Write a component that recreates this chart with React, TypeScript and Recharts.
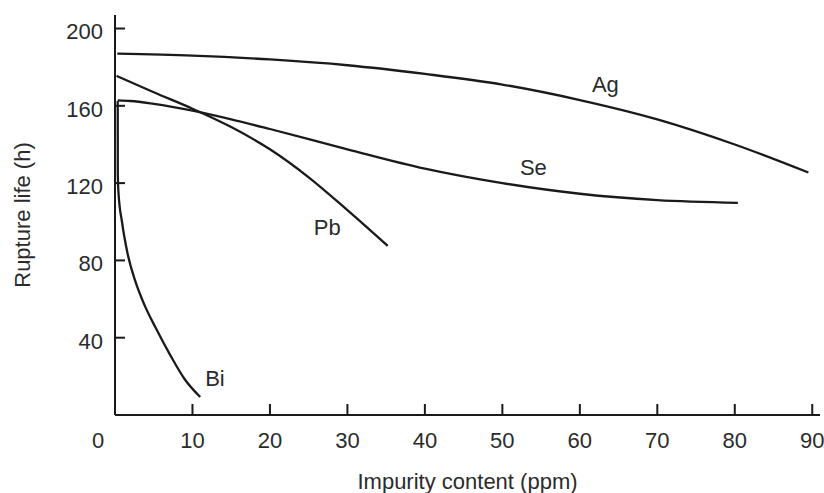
import { LineChart, Line, XAxis, YAxis, ReferenceDot } from 'recharts';

// impurity content (ppm) and rupture life (h) for each element
const agPpm = [0.3, 10, 20, 30, 40, 50, 60, 70, 80, 89.5];
const agLife = [187, 186, 184, 181, 176.5, 171, 163, 153, 140, 125.5];

const sePpm = [0.35, 2, 5, 10, 15, 20, 30, 40, 50, 60, 70, 80.4];
const seLife = [162.8, 162.5, 161, 157.5, 153, 148, 137.5, 127.5, 120, 114.5, 111.2, 109.8];

const pbPpm = [0.2, 5, 10, 15, 20, 25, 30, 35.2];
const pbLife = [175.5, 167, 158.5, 149, 137.5, 123, 106, 87.5];

const biPpm = [0.35, 0.36, 0.45, 0.9, 1.6, 2.6, 3.8, 5.2, 7.2, 9, 11];
const biLife = [162.5, 125, 115, 100, 84, 69.5, 57, 45.5, 30.5, 18.5, 9.3];

const xTicks = [0, 10, 20, 30, 40, 50, 60, 70, 80, 90];
const yTicks = [40, 80, 120, 160, 200];

// where each curve name sits (ppm, h)
const curveLabels = [
  { name: 'Ag', x: 63.3, y: 171 },
  { name: 'Se', x: 54, y: 128 },
  { name: 'Pb', x: 27.4, y: 97 },
  { name: 'Bi', x: 12.9, y: 19 },
];

const toRows = (xs: number[], ys: number[]) => xs.map((x, i) => ({ x, y: ys[i] }));

const series = [
  { key: 'Ag', data: toRows(agPpm, agLife) },
  { key: 'Se', data: toRows(sePpm, seLife) },
  { key: 'Pb', data: toRows(pbPpm, pbLife) },
  { key: 'Bi', data: toRows(biPpm, biLife) },
];

const font = '"Liberation Sans", Arial, sans-serif';
const ink = '#1a1a1a';
const textInk = '#2b2b2b';
const fs = 22;

const XTick = (props: any) => {
  const { x, y, payload } = props;
  const dx = payload.value === 0 ? -17 : 0;
  return (
    <text x={x + dx} y={y} dy="0.71em" textAnchor="middle" fill={textInk} fontSize={fs} fontFamily={font}>
      {payload.value}
    </text>
  );
};

export default function App() {
  return (
    <div style={{ position: 'absolute', left: 0, top: 0, background: '#fff' }}>
      <LineChart width={824} height={493} margin={{ top: 15, right: 4, bottom: 0, left: 0 }}>
        <XAxis
          dataKey="x"
          type="number"
          domain={[0, 91]}
          ticks={xTicks}
          allowDataOverflow
          height={78}
          tickSize={-11}
          tickMargin={28}
          tick={XTick}
          axisLine={{ stroke: ink, strokeWidth: 2 }}
          tickLine={{ stroke: ink, strokeWidth: 2 }}
          label={{ value: 'Impurity content (ppm)', position: 'insideBottom', offset: 4, fill: textInk, fontSize: fs, fontFamily: font }}
        />
        <YAxis
          dataKey="y"
          type="number"
          domain={[0, 207]}
          ticks={yTicks}
          allowDataOverflow
          width={115}
          tickSize={-10}
          tickMargin={22}
          tick={{ fill: textInk, fontSize: fs, fontFamily: font, dy: 3 }}
          axisLine={{ stroke: ink, strokeWidth: 2 }}
          tickLine={{ stroke: ink, strokeWidth: 2 }}
          label={{ value: 'Rupture life (h)', angle: -90, position: 'insideLeft', offset: 22, fill: textInk, fontSize: fs, fontFamily: font, style: { textAnchor: 'middle' } }}
        />
        {series.map((s) => (
          <Line
            key={s.key}
            data={s.data}
            dataKey="y"
            type="monotone"
            stroke={ink}
            strokeWidth={2.3}
            dot={false}
            isAnimationActive={false}
          />
        ))}
        {curveLabels.map((c) => (
          <ReferenceDot
            key={c.name}
            x={c.x}
            y={c.y}
            r={0}
            stroke="none"
            fill="none"
            label={{ value: c.name, position: 'center', fill: textInk, fontSize: fs, fontFamily: font }}
          />
        ))}
      </LineChart>
    </div>
  );
}
